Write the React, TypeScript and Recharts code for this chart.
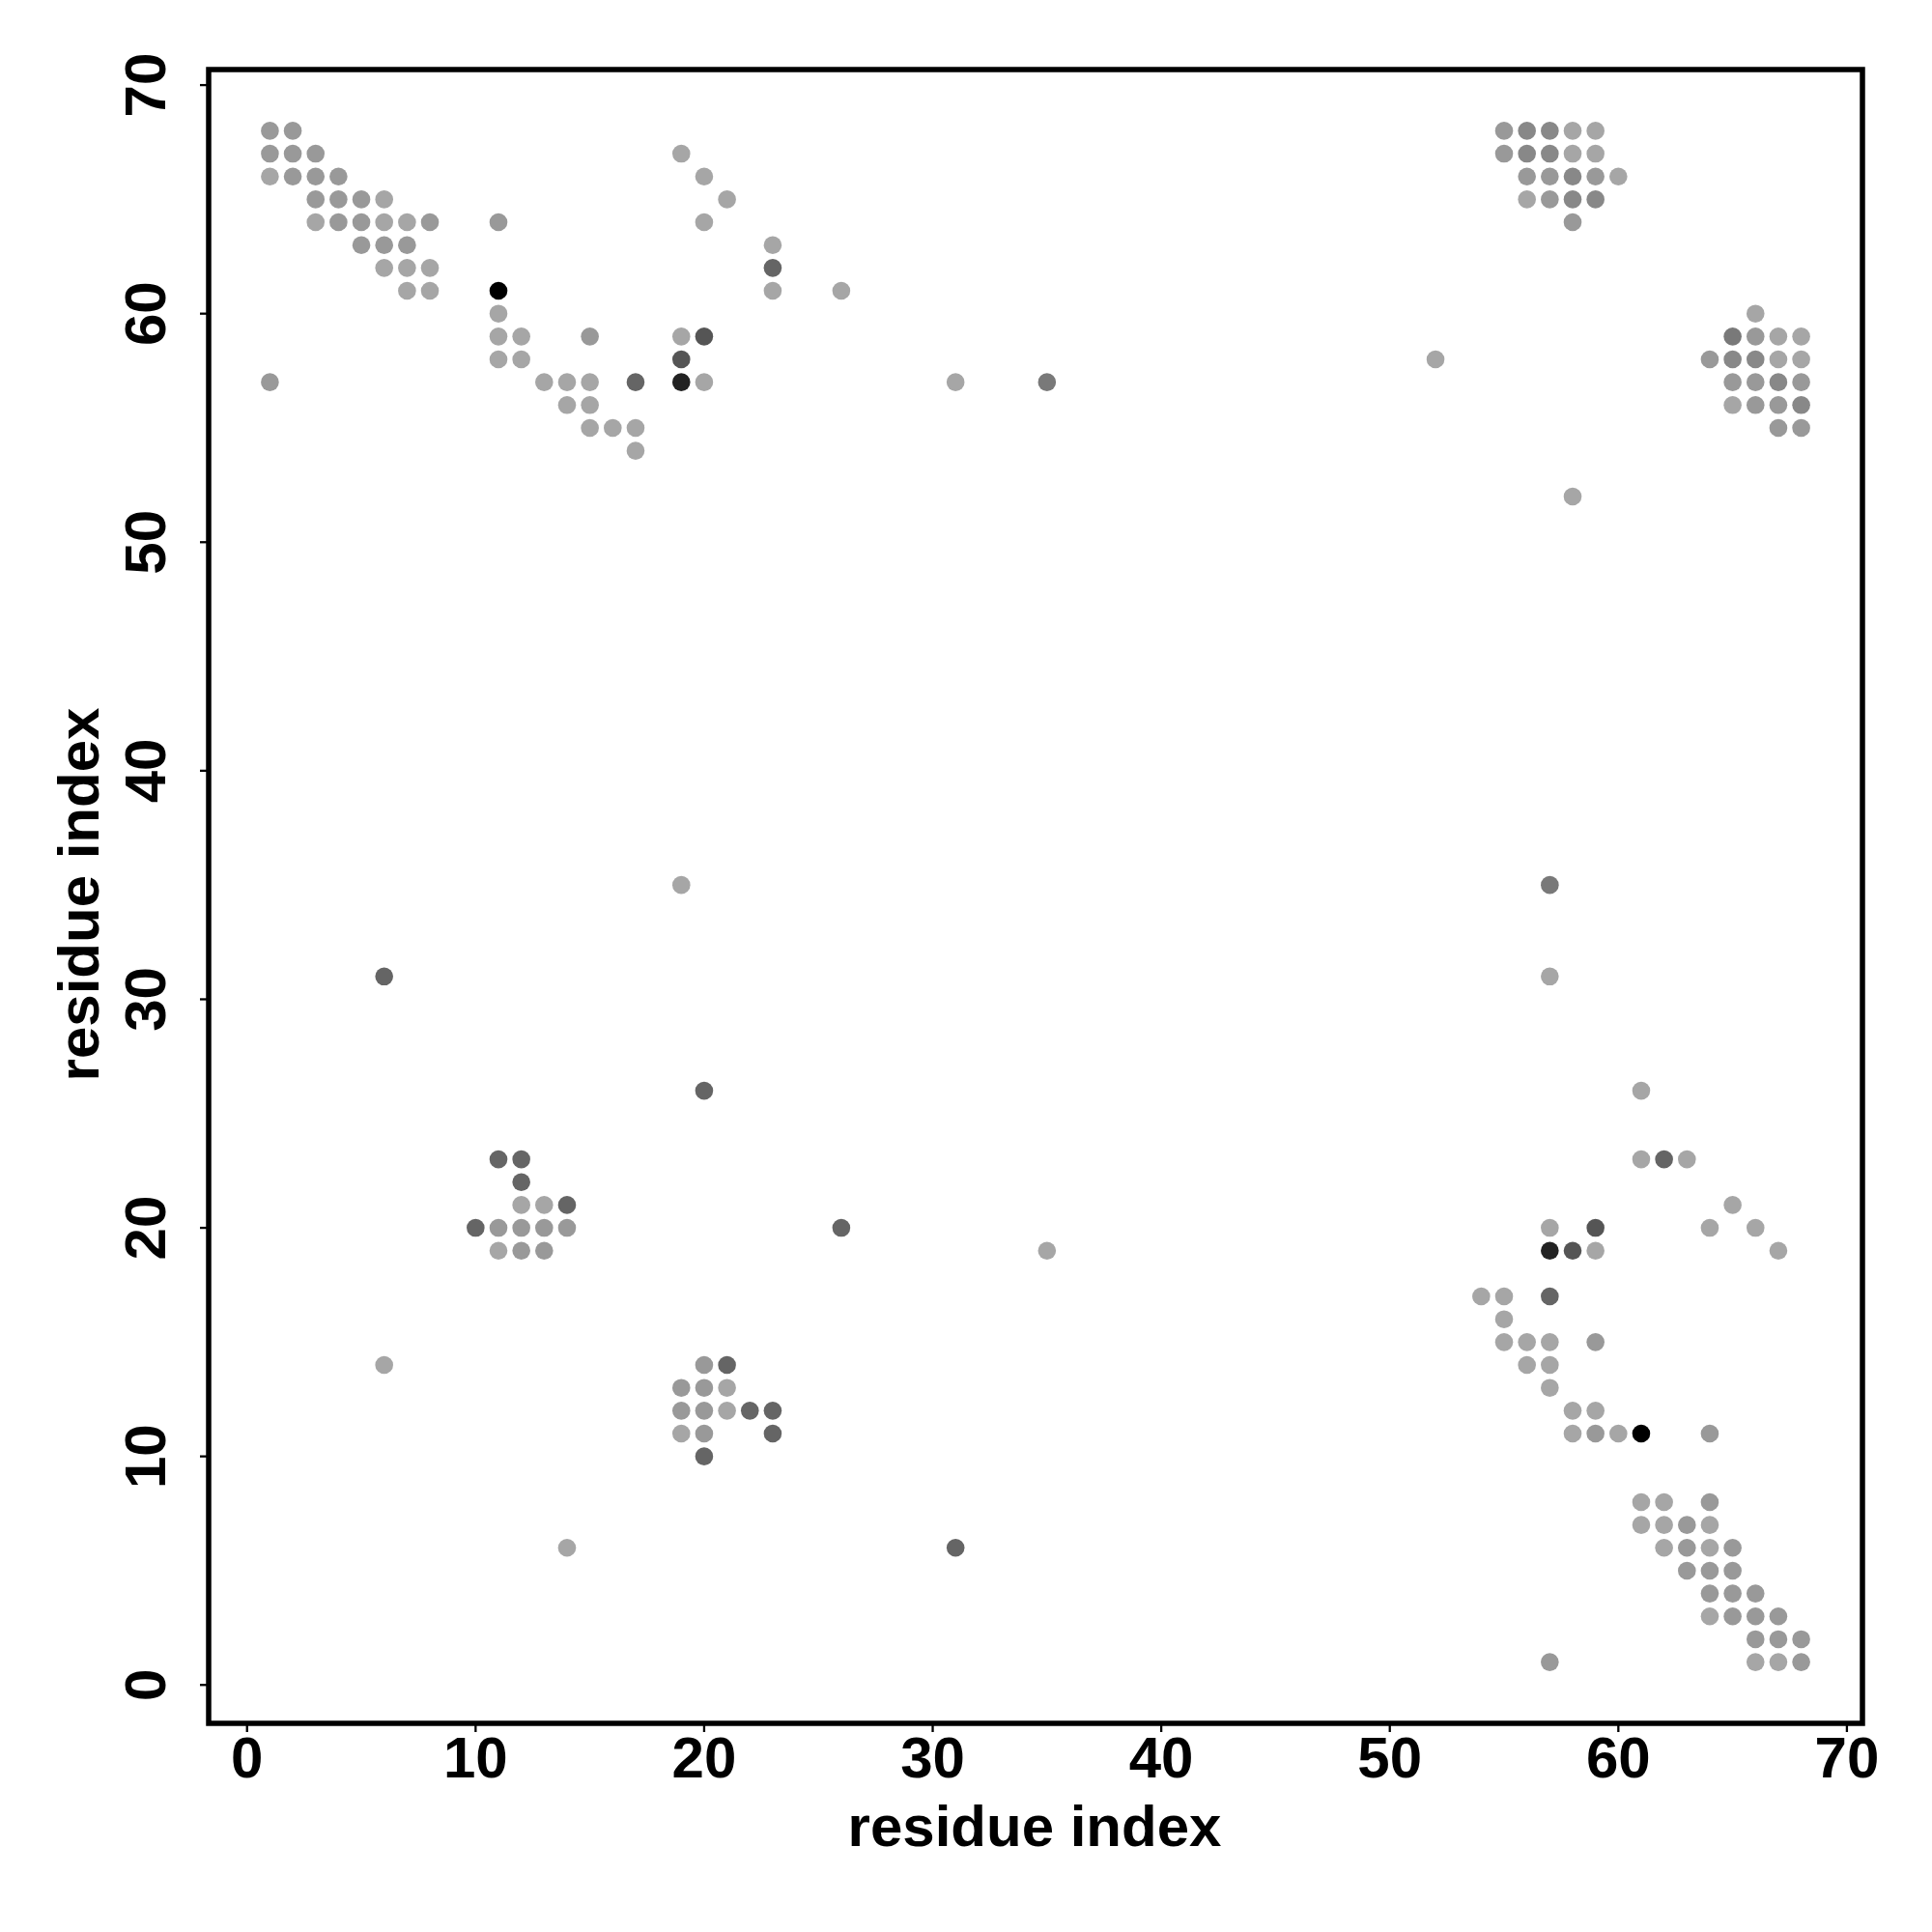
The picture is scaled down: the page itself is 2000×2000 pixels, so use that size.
import { ScatterChart, Scatter, XAxis, YAxis, ReferenceArea } from "recharts";

// contact map: [residue i, residue j] pairs grouped by shade
const lightContacts: [number, number][] = [
  [1, 66], [6, 65], [3, 64], [6, 64], [7, 64], [6, 62], [7, 62], [8, 62], [7, 61], [8, 61],
  [11, 60], [11, 59], [12, 59], [11, 58], [12, 58], [13, 57], [14, 57], [15, 57], [14, 56],
  [15, 56], [15, 55], [16, 55], [17, 55], [17, 54],
  [19, 67], [20, 66], [21, 65], [20, 64], [23, 63], [23, 61], [26, 61], [19, 59], [20, 57], [31, 57],
  [58, 68], [59, 68], [58, 67], [59, 67], [60, 66], [56, 65], [52, 58], [58, 52], [66, 60],
  [67, 59], [68, 59], [67, 58], [68, 58], [65, 56],
  [19, 35], [12, 21], [13, 21], [11, 19], [35, 19], [6, 14], [21, 13], [21, 12], [19, 11], [14, 6],
  [57, 31], [61, 26], [61, 23], [63, 23], [65, 21], [57, 20], [64, 20], [66, 20], [59, 19], [67, 19],
  [54, 17], [55, 17], [55, 16], [55, 15], [56, 15], [57, 15], [56, 14], [57, 14], [57, 13],
  [58, 12], [59, 12], [58, 11], [60, 11], [61, 8], [62, 8], [61, 7], [62, 7], [64, 7], [62, 6],
  [64, 6], [64, 3], [66, 1], [67, 1],
];

const midContacts: [number, number][] = [
  [1, 68], [2, 68], [1, 67], [2, 67], [3, 67], [2, 66], [3, 66], [4, 66], [3, 65], [4, 65],
  [5, 65], [4, 64], [5, 64], [8, 64], [11, 64], [5, 63], [6, 63], [7, 63], [15, 59], [1, 57],
  [55, 68], [55, 67], [59, 66], [58, 64], [64, 58], [65, 57], [66, 57], [68, 57], [66, 56],
  [67, 55], [68, 55], [66, 59], [56, 66], [57, 66], [57, 65], [67, 56],
  [11, 20], [12, 20], [13, 20], [14, 20], [12, 19], [13, 19], [20, 14], [19, 13], [20, 13],
  [19, 12], [20, 12], [20, 11],
  [59, 15], [59, 11], [64, 11], [64, 8], [63, 7], [63, 6], [65, 6], [63, 5], [64, 5], [65, 5],
  [64, 4], [65, 4], [66, 4], [65, 3], [66, 3], [67, 3], [66, 2], [67, 2], [68, 2], [68, 1], [57, 1],
];

const midDarkContacts: [number, number][] = [
  [56, 68], [57, 68], [56, 67], [57, 67], [58, 66], [58, 65], [59, 65], [65, 58], [66, 58],
  [67, 57], [68, 56],
];

const greyContacts: [number, number][] = [[35, 57], [57, 35], [65, 59]];

const darkContacts: [number, number][] = [
  [17, 57], [23, 62], [6, 31], [20, 26], [11, 23], [12, 23], [12, 22], [14, 21], [10, 20],
  [26, 20], [21, 14], [22, 12], [23, 12], [23, 11], [20, 10], [31, 6], [62, 23], [57, 17],
];

const darkerContacts: [number, number][] = [[20, 59], [19, 58], [58, 19], [59, 20]];
const nearBlackContacts: [number, number][] = [[19, 57], [57, 19]];
const blackContacts: [number, number][] = [[11, 61], [61, 11]];

const ticks = [0, 10, 20, 30, 40, 50, 60, 70];
const domain: [number, number] = [-1.68, 70.68];

const groups: { data: [number, number][]; color: string }[] = [
  { data: lightContacts, color: "#a6a6a6" },
  { data: midContacts, color: "#999999" },
  { data: midDarkContacts, color: "#888888" },
  { data: greyContacts, color: "#797979" },
  { data: darkContacts, color: "#656565" },
  { data: darkerContacts, color: "#555555" },
  { data: nearBlackContacts, color: "#222222" },
  { data: blackContacts, color: "#000000" },
];

const font = "'Liberation Sans', Arial, Helvetica, sans-serif";

const XTick = ({ x, payload }: any) => (
  <text x={x} y={1840} textAnchor="middle" fontFamily={font} fontWeight="bold" fontSize={60} fill="#000">
    {payload.value}
  </text>
);

const YTick = ({ y, payload }: any) => (
  <text
    x={171}
    y={y}
    transform={`rotate(-90 171 ${y})`}
    textAnchor="middle"
    fontFamily={font}
    fontWeight="bold"
    fontSize={60}
    fill="#000"
  >
    {payload.value}
  </text>
);

export default function App() {
  return (
    <div style={{ position: "absolute", left: 0, top: 0, background: "#fff" }}>
      <ScatterChart width={2000} height={2000} margin={{ top: 72, right: 72, bottom: 116, left: 116 }}>
        <XAxis
          type="number"
          dataKey="x"
          domain={domain}
          ticks={ticks}
          allowDataOverflow
          height={100}
          axisLine={false}
          tickSize={9}
          tickLine={{ stroke: "#000", strokeWidth: 2.3 }}
          tick={XTick}
          interval={0}
          label={{
            content: () => (
              <text x={1071} y={1911} textAnchor="middle" fontFamily={font} fontWeight="bold" fontSize={60} fill="#000">
                residue index
              </text>
            ),
          }}
        />
        <YAxis
          type="number"
          dataKey="y"
          domain={domain}
          ticks={ticks}
          allowDataOverflow
          width={100}
          axisLine={false}
          tickSize={9}
          tickLine={{ stroke: "#000", strokeWidth: 2.3 }}
          tick={YTick}
          interval={0}
          label={{
            content: () => (
              <text
                x={102}
                y={926}
                transform="rotate(-90 102 926)"
                textAnchor="middle"
                fontFamily={font}
                fontWeight="bold"
                fontSize={60}
                fill="#000"
              >
                residue index
              </text>
            ),
          }}
        />
        {groups.map((g, i) => (
          <Scatter
            key={i}
            data={g.data.map(([x, y]) => ({ x, y }))}
            isAnimationActive={false}
            shape={(p: any) => <circle cx={p.cx} cy={p.cy} r={9.3} fill={g.color} />}
          />
        ))}
        <ReferenceArea
          x1={domain[0]}
          x2={domain[1]}
          y1={domain[0]}
          y2={domain[1]}
          fill="none"
          stroke="#000"
          strokeWidth={5.5}
          ifOverflow="visible"
        />
      </ScatterChart>
    </div>
  );
}
